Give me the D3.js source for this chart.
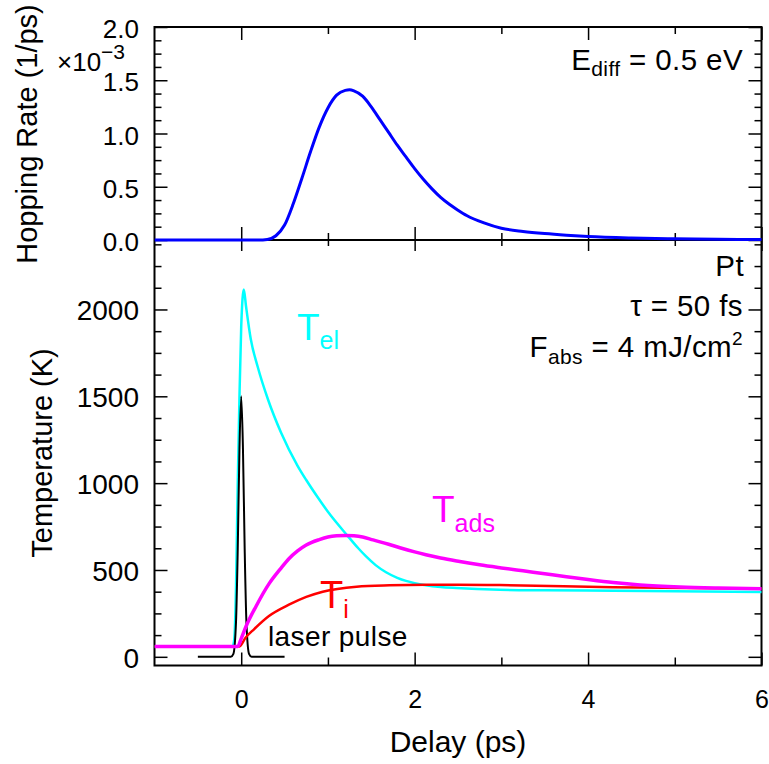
<!DOCTYPE html>
<html>
<head>
<meta charset="utf-8">
<script src="https://cdn.jsdelivr.net/npm/d3@7"></script>
<style>
  html, body { margin: 0; padding: 0; background: #fff; }
  svg { display: block; font-family: "Liberation Sans", Arial, Helvetica, sans-serif; }
</style>
</head>
<body>
<svg id="chart" width="769" height="764"></svg>
<script>
// ---- data -------------------------------------------------------------
// Hopping rate (units of 1e-3 per ps) versus delay (ps)
const rateDelay  = [-1, 0.2, 0.3, 0.4, 0.5, 0.6, 0.7, 0.8, 0.9, 1.0, 1.1, 1.2, 1.25, 1.3, 1.4, 1.5, 1.6, 1.7, 1.8, 1.9, 2.0, 2.1, 2.2, 2.3, 2.4, 2.5, 2.6, 2.8, 3.0, 3.25, 3.5, 3.75, 4.0, 4.5, 5.0, 5.5, 6.0];
const rateValues = [0, 0, 0.005, 0.04, 0.14, 0.34, 0.58, 0.83, 1.06, 1.24, 1.36, 1.405, 1.41, 1.40, 1.35, 1.25, 1.13, 1.01, 0.89, 0.78, 0.67, 0.57, 0.48, 0.40, 0.335, 0.28, 0.23, 0.16, 0.11, 0.08, 0.06, 0.045, 0.033, 0.019, 0.011, 0.007, 0.004];

// Electron temperature T_el (K)
const elDelay  = [-1, -0.1, -0.08, -0.06, -0.04, -0.02, 0.0, 0.03, 0.055, 0.11, 0.19, 0.31, 0.46, 0.65, 0.75, 0.88, 1.0, 1.23, 1.35, 1.44, 1.55, 1.67, 1.8, 1.9, 2.0, 2.13, 2.3, 2.48, 2.98, 3.5, 4.3, 5.0, 6.0];
const elValues = [60, 60, 100, 400, 1000, 1500, 1900, 2115, 2020, 1830, 1670, 1480, 1290, 1100, 1018, 920, 835, 695, 625, 578, 528, 487, 455, 437, 424, 412, 402, 396, 386, 383, 380, 377, 373];

// Adsorbate temperature T_ads (K)
const adsDelay  = [-1, -0.04, 0.0, 0.054, 0.17, 0.32, 0.45, 0.55, 0.65, 0.75, 0.9, 1.0, 1.1, 1.2, 1.3, 1.4, 1.52, 1.7, 1.83, 2.0, 2.13, 2.3, 2.52, 2.75, 3.0, 3.25, 3.5, 3.75, 4.0, 4.29, 4.6, 5.06, 5.5, 6.0];
const adsValues = [60, 60, 105, 173, 290, 420, 505, 565, 610, 644, 675, 690, 697, 699, 697, 690, 673, 648, 628, 604, 588, 569, 549, 530, 512, 495, 478, 461, 445, 428, 414, 402, 396, 392];

// Lattice temperature T_i (K)
const ionDelay  = [-1, -0.02, 0.05, 0.15, 0.32, 0.55, 0.75, 0.94, 1.33, 1.71, 2.13, 2.5, 2.98, 4.29, 6.0];
const ionValues = [60, 60, 110, 160, 235, 300, 345, 375, 404, 412, 415, 415, 413, 400, 392];

// Laser pulse envelope (drawn on the K axis)
const pulseDelay  = [-0.5, -0.12, -0.09, -0.06, -0.04, -0.02, 0, 0.02, 0.04, 0.06, 0.09, 0.12, 0.5];
const pulseValues = [0, 0, 17, 200, 620, 1200, 1500, 1200, 620, 200, 17, 0, 0];

// Tick values and labels
const delayTicks  = [0, 2, 4, 6];
const delayLabels = ["0", "2", "4", "6"];
const rateTicks   = [0, 0.5, 1.0, 1.5, 2.0];
const rateLabels  = ["0.0", "0.5", "1.0", "1.5", "2.0"];
const tempTicks   = [0, 500, 1000, 1500, 2000];
const tempLabels  = ["0", "500", "1000", "1500", "2000"];

// ---- layout -----------------------------------------------------------
const svg = d3.select("#chart");
const FONT = '"Liberation Sans", Arial, Helvetica, sans-serif';
const L = 154.5, R = 761.5;
const topT = 27, mid = 240, botB = 665.5;

const x = d3.scaleLinear().domain([-1, 6]).range([L, R]);
const yRate = d3.scaleLinear().domain([0, 2]).range([mid, topT]);
const yTemp = d3.scaleLinear().domain([-50, 2400]).range([botB, mid]);

const minorDelay = [1, 3, 5];
const minorRate = d3.range(0.125, 2, 0.125).filter(v => Math.abs(v * 2 - Math.round(v * 2)) > 1e-6);
const minorTemp = d3.range(125, 2400, 125).filter(v => v % 500 !== 0);

// clip regions for the two panels
const defs = svg.append("defs");
defs.append("clipPath").attr("id", "clipTop")
  .append("rect").attr("x", L).attr("y", topT - 2).attr("width", R - L + 2).attr("height", mid - topT + 4);
defs.append("clipPath").attr("id", "clipBot")
  .append("rect").attr("x", L).attr("y", mid).attr("width", R - L + 2).attr("height", botB - mid);

// frames
svg.append("rect").attr("x", L).attr("y", topT).attr("width", R - L).attr("height", botB - topT)
  .attr("fill", "none").attr("stroke", "#000").attr("stroke-width", 2);
svg.append("line").attr("x1", L).attr("x2", R).attr("y1", mid).attr("y2", mid)
  .attr("stroke", "#000").attr("stroke-width", 2);

// tick helper built on d3.axis
function ticks(gen, values, size, fmt, tx, ty) {
  const g = svg.append("g").attr("transform", `translate(${tx},${ty})`);
  g.call(gen.tickValues(values).tickSizeInner(size).tickSizeOuter(0).tickPadding(0)
           .tickFormat(fmt || (() => "")));
  g.select(".domain").remove();
  g.attr("font-family", null).attr("font-size", null);
  g.selectAll(".tick line").attr("stroke", "#000").attr("stroke-width", 1.5);
  return g;
}

// ---- top panel: hopping rate -----------------------------------------
ticks(d3.axisLeft(yRate), minorRate, -7, null, L, 0);
ticks(d3.axisRight(yRate), minorRate, -7, null, R, 0);
ticks(d3.axisRight(yRate), rateTicks, -13, null, R, 0);
const rateAxis = ticks(d3.axisLeft(yRate), rateTicks, -13, d => rateLabels[rateTicks.indexOf(d)], L, 0);
rateAxis.selectAll(".tick text")
  .attr("x", -15.5).attr("y", 10.5).attr("dy", null)
  .attr("font-size", 26).attr("font-family", FONT).attr("fill", "#000");
ticks(d3.axisBottom(x), delayTicks, -13, null, 0, mid);
ticks(d3.axisBottom(x), minorDelay, -7, null, 0, mid);
ticks(d3.axisTop(x), delayTicks, -13, null, 0, topT);
ticks(d3.axisTop(x), minorDelay, -7, null, 0, topT);

// ---- bottom panel: temperatures --------------------------------------
ticks(d3.axisLeft(yTemp), minorTemp, -7, null, L, 0);
ticks(d3.axisRight(yTemp), minorTemp, -7, null, R, 0);
ticks(d3.axisRight(yTemp), tempTicks, -13, null, R, 0);
const tempAxis = ticks(d3.axisLeft(yTemp), tempTicks, -13, d => tempLabels[tempTicks.indexOf(d)], L, 0);
tempAxis.selectAll(".tick text")
  .attr("x", -15.5).attr("y", 10.5).attr("dy", null)
  .attr("font-size", 28).attr("font-family", FONT).attr("fill", "#000");
ticks(d3.axisTop(x), delayTicks, -11, null, 0, mid);
ticks(d3.axisTop(x), minorDelay, -6, null, 0, mid);
ticks(d3.axisBottom(x), minorDelay, -8, null, 0, botB);
const delayAxis = ticks(d3.axisBottom(x), delayTicks, -13, d => delayLabels[delayTicks.indexOf(d)], 0, botB);
delayAxis.selectAll(".tick text")
  .attr("y", 42).attr("dy", null)
  .attr("font-size", 25).attr("font-family", FONT).attr("fill", "#000");

// ---- curves -----------------------------------------------------------
function series(xs, ys) { return xs.map((d, i) => [d, ys[i]]); }

const lineRate = d3.line().x(d => x(d[0])).y(d => yRate(d[1])).curve(d3.curveMonotoneX);
const lineTemp = d3.line().x(d => x(d[0])).y(d => yTemp(d[1])).curve(d3.curveMonotoneX);

const gTop = svg.append("g").attr("clip-path", "url(#clipTop)");
const gBot = svg.append("g").attr("clip-path", "url(#clipBot)");

gTop.append("path").datum(series(rateDelay, rateValues))
  .attr("d", lineRate).attr("fill", "none").attr("stroke", "#0000ff").attr("stroke-width", 3);

gBot.append("path").datum(series(elDelay, elValues))
  .attr("d", lineTemp).attr("fill", "none").attr("stroke", "#00ffff").attr("stroke-width", 2.5);
gBot.append("path").datum(series(pulseDelay, pulseValues))
  .attr("d", lineTemp).attr("fill", "none").attr("stroke", "#000").attr("stroke-width", 2);
gBot.append("path").datum(series(ionDelay, ionValues))
  .attr("d", lineTemp).attr("fill", "none").attr("stroke", "#ff0000").attr("stroke-width", 2.5);
gBot.append("path").datum(series(adsDelay, adsValues))
  .attr("d", lineTemp).attr("fill", "none").attr("stroke", "#ff00ff").attr("stroke-width", 3.5);

// ---- text -------------------------------------------------------------
function label(xp, yp, size, color, anchor) {
  return svg.append("text").attr("x", xp).attr("y", yp)
    .attr("font-size", size).attr("fill", color).attr("text-anchor", anchor || "start")
    .attr("font-family", FONT);
}

// axis titles
svg.append("text").attr("transform", "translate(37,134) rotate(-90)")
  .attr("text-anchor", "middle").attr("font-size", 29).attr("font-family", FONT)
  .text("Hopping Rate (1/ps)");
svg.append("text").attr("transform", "translate(52,453) rotate(-90)")
  .attr("text-anchor", "middle").attr("font-size", 29).attr("font-family", FONT)
  .text("Temperature (K)");
label(458, 752, 30, "#000", "middle").text("Delay (ps)");

// multiplier of the rate axis
const mult = label(57, 71, 26, "#000");
mult.append("tspan").text("×10");
mult.append("tspan").attr("font-size", 21).attr("dy", -12).text("−3");

// parameter annotations
const ed = label(743, 70, 29.5, "#000", "end").attr("letter-spacing", 0.4);
ed.append("tspan").text("E");
ed.append("tspan").attr("font-size", 21).attr("dy", 6).text("diff");
ed.append("tspan").attr("dy", -6).text(" = 0.5 eV");

label(744, 276, 29.5, "#000", "end").attr("letter-spacing", 0.4).text("Pt");
label(743, 316, 29.5, "#000", "end").attr("letter-spacing", 0.4).text("τ = 50 fs");

const fa = label(743, 357, 29.5, "#000", "end").attr("letter-spacing", 0.4);
fa.append("tspan").text("F");
fa.append("tspan").attr("font-size", 21).attr("dy", 7).text("abs");
fa.append("tspan").attr("dy", -7).text(" = 4 mJ/cm");
fa.append("tspan").attr("font-size", 19).attr("dy", -12).text("2");

// curve labels
const tel = label(297, 340, 37, "#00ffff");
tel.append("tspan").text("T");
tel.append("tspan").attr("font-size", 25).attr("dy", 9).text("el");

const tads = label(432, 522, 37, "#ff00ff");
tads.append("tspan").text("T");
tads.append("tspan").attr("font-size", 25).attr("dy", 10).text("ads");

const ti = label(320, 608, 38, "#ff0000");
ti.append("tspan").text("T");
ti.append("tspan").attr("font-size", 25).attr("dy", 10).text("i");

label(268, 646, 28, "#000").attr("letter-spacing", 0.4).text("laser pulse");
</script>
</body>
</html>
